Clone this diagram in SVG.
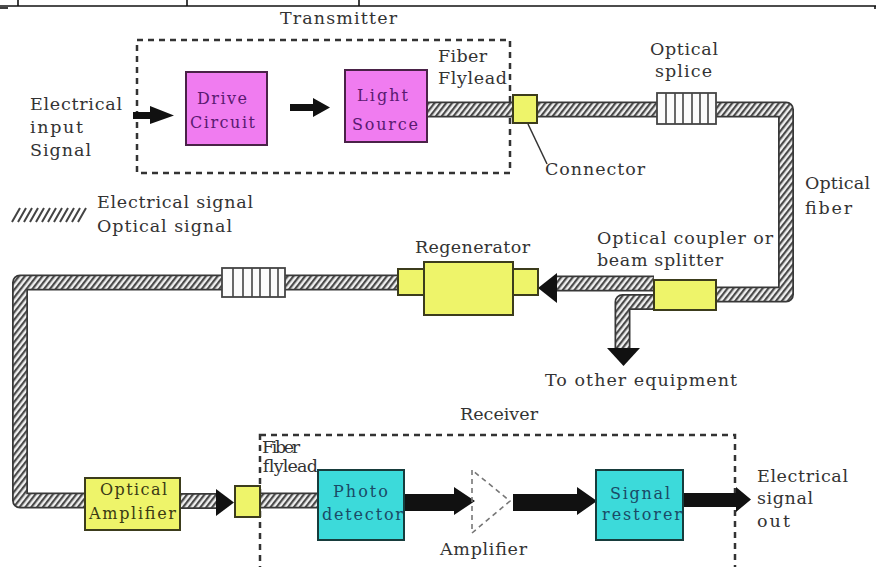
<svg xmlns="http://www.w3.org/2000/svg" width="877" height="567" viewBox="0 0 877 567">
  <defs>
    <!-- diagonal hatch used inside optical fibre runs -->
    <pattern id="hatch" patternUnits="userSpaceOnUse" width="4.6" height="10" patternTransform="rotate(38)">
      <rect width="4.6" height="10" fill="#f0f0f0"/>
      <rect width="2.2" height="10" fill="#4a4a4a"/>
    </pattern>
    <style>
      text { font-family: "DejaVu Serif", "Liberation Serif", serif; fill: #333; font-size: 17.5px; }
      .box-t { font-size: 16px; }
      .mag { fill: #f07cf0; stroke: #4a2248; stroke-width: 2; }
      .mag-t { fill: #5a1a70; }
      .yel { fill: #eef46a; stroke: #3c3c1c; stroke-width: 2; }
      .yel-t { fill: #3a3a14; }
      .cyan { fill: #3cdada; stroke: #173c3c; stroke-width: 2; }
      .cyan-t { fill: #1a4a66; }
      .dash { fill: none; stroke: #333; stroke-width: 2.5; stroke-dasharray: 6 5; }
      .fo { fill: none; stroke: #383838; stroke-width: 16; stroke-linejoin: round; }
      .fi { fill: none; stroke: url(#hatch); stroke-width: 12.5; stroke-linejoin: round; }
      .splice { fill: #fbfbfb; stroke: #444; stroke-width: 1.8; }
      .sl { stroke: #444; stroke-width: 1.6; }
      .blk { fill: #111; }
    </style>
  </defs>

  <rect width="877" height="567" fill="#ffffff"/>

  <!-- ruled border along the top edge -->
  <g id="top-rule" stroke="#111" stroke-width="1.6">
    <line x1="0" y1="6" x2="876" y2="6"/>
    <line x1="18" y1="0" x2="18" y2="6"/>
    <line x1="187" y1="0" x2="187" y2="6"/>
    <line x1="359" y1="0" x2="359" y2="6"/>
    <line x1="0" y1="8" x2="8" y2="8"/>
    <line x1="875" y1="6" x2="875" y2="9"/>
  </g>

  <!-- transmitter and receiver enclosures -->
  <g id="transmitter">
    <rect class="dash" x="137" y="40" width="373" height="133"/>
    <text x="280" y="24" textLength="117">Transmitter</text>
  </g>
  <g id="receiver">
    <rect class="dash" x="260" y="435" width="475" height="160"/>
    <text x="460" y="420" textLength="78">Receiver</text>
  </g>

  <!-- optical fibre runs and electrical arrows -->
  <g id="connectors">
    <!-- flylead and span to the splice -->
    <path class="fo" d="M427 109.5 H513"/>
    <path class="fi" d="M427 109.5 H513"/>
    <path class="fo" d="M537 109.5 H657"/>
    <path class="fi" d="M537 109.5 H657"/>
    <!-- right loop down to coupler -->
    <path class="fo" d="M716 109.5 H786 V294.5 H716"/>
    <path class="fi" d="M716 109.5 H786 V294.5 H716"/>
    <!-- tap branch to other equipment -->
    <path class="fo" d="M654 302 H622.5 V348"/>
    <path class="fi" d="M654 302 H622.5 V348"/>
    <polygon class="blk" points="607,348 640,348 623.5,366"/>
    <!-- coupler to regenerator -->
    <path class="fo" d="M654 283.5 H557"/>
    <path class="fi" d="M654 283.5 H557"/>
    <polygon class="blk" points="538,288 557,273 557,303"/>
    <!-- regenerator to splice -->
    <path class="fo" d="M398 282.5 H285"/>
    <path class="fi" d="M398 282.5 H285"/>
    <!-- left loop down to optical amplifier -->
    <path class="fo" d="M222 282.5 H20 V500.5 H85"/>
    <path class="fi" d="M222 282.5 H20 V500.5 H85"/>
    <!-- amplifier to receiver connector -->
    <path class="fo" d="M180 501 H218"/>
    <path class="fi" d="M180 501 H218"/>
    <polygon class="blk" points="216,489 216,516 234,502.5"/>
    <!-- receiver flylead -->
    <path class="fo" d="M260 500.5 H318"/>
    <path class="fi" d="M260 500.5 H318"/>

    <!-- electrical arrows -->
    <polygon class="blk" points="133,112 150,112 150,106 174,115.5 150,124 150,119 133,119"/>
    <polygon class="blk" points="290,104 313,104 313,98 330,107.5 313,117 313,111 290,111"/>
    <polygon class="blk" points="404,494 454,494 454,487 475,501 454,515 454,511 404,511"/>
    <polygon class="blk" points="513,494 577,494 577,487 597,501 577,515 577,511 513,511"/>
    <polygon class="blk" points="683,493 736,493 736,487 751,499.5 736,512 736,507 683,507"/>

    <!-- connector leader -->
    <line x1="528" y1="124" x2="547" y2="164" stroke="#333" stroke-width="1.5"/>

    <!-- amplifier symbol (dashed) -->
    <path d="M472 470 V533 L510 501 Z" fill="none" stroke="#777" stroke-width="1.6" stroke-dasharray="5 4"/>
  </g>

  <!-- electrical input label -->
  <g id="input-label">
    <text x="30" y="110" textLength="92">Electrical</text>
    <text x="30" y="133" textLength="53">input</text>
    <text x="30" y="156" textLength="61">Signal</text>
  </g>

  <g id="drive-circuit">
    <rect class="mag" x="186" y="72" width="81" height="73"/>
    <text class="box-t mag-t" x="197" y="104" textLength="50">Drive</text>
    <text class="box-t mag-t" x="190" y="128" textLength="65">Circuit</text>
  </g>

  <g id="light-source">
    <rect class="mag" x="345" y="70" width="82" height="72"/>
    <text class="box-t mag-t" x="357" y="101" textLength="51">Light</text>
    <text class="box-t mag-t" x="352" y="130" textLength="66">Source</text>
  </g>

  <g id="fiber-flylead-tx">
    <text x="438" y="62" textLength="49">Fiber</text>
    <text x="438" y="84" textLength="69">Flylead</text>
  </g>

  <g id="connector-tx">
    <rect class="yel" x="513" y="95" width="24" height="28"/>
    <text x="545" y="175" textLength="100">Connector</text>
  </g>

  <g id="splice-top">
    <rect class="splice" x="657" y="93" width="59" height="31"/>
    <g class="sl">
      <line x1="666" y1="93" x2="666" y2="124"/>
      <line x1="675" y1="93" x2="675" y2="124"/>
      <line x1="683" y1="93" x2="683" y2="124"/>
      <line x1="692" y1="93" x2="692" y2="124"/>
      <line x1="700" y1="93" x2="700" y2="124"/>
      <line x1="708" y1="93" x2="708" y2="124"/>
    </g>
    <text x="650" y="55" textLength="68">Optical</text>
    <text x="655" y="77" textLength="57">splice</text>
  </g>

  <g id="fiber-label">
    <text x="805" y="189" textLength="65">Optical</text>
    <text x="805" y="214" textLength="47">fiber</text>
  </g>

  <g id="legend">
    <path d="M12 222 L20 208 M18 222 L26 208 M24 222 L32 208 M30 222 L38 208 M36 222 L44 208 M42 222 L50 208 M48 222 L56 208 M54 222 L62 208 M60 222 L68 208 M66 222 L74 208 M72 222 L80 208 M78 222 L86 208" stroke="#444" stroke-width="2"/>
    <text x="97" y="208" textLength="156">Electrical signal</text>
    <text x="97" y="232" textLength="135">Optical signal</text>
  </g>

  <g id="coupler">
    <rect class="yel" x="654" y="280" width="62" height="30"/>
    <text x="597" y="244" textLength="176">Optical coupler or</text>
    <text x="597" y="266" textLength="126">beam splitter</text>
    <text x="545" y="386" textLength="192">To other equipment</text>
  </g>

  <g id="regenerator">
    <rect class="yel" x="398" y="269" width="26" height="26"/>
    <rect class="yel" x="513" y="269" width="25" height="26"/>
    <rect class="yel" x="424" y="262" width="89" height="53"/>
    <text x="415" y="253" textLength="115">Regenerator</text>
  </g>

  <g id="splice-bottom">
    <rect class="splice" x="222" y="268" width="63" height="29"/>
    <g class="sl">
      <line x1="233" y1="268" x2="233" y2="297"/>
      <line x1="243" y1="268" x2="243" y2="297"/>
      <line x1="252" y1="268" x2="252" y2="297"/>
      <line x1="260" y1="268" x2="260" y2="297"/>
      <line x1="270" y1="268" x2="270" y2="297"/>
      <line x1="278" y1="268" x2="278" y2="297"/>
    </g>
  </g>

  <g id="optical-amplifier">
    <rect class="yel" x="85" y="478" width="95" height="52"/>
    <text class="box-t yel-t" x="100" y="495" textLength="67">Optical</text>
    <text class="box-t yel-t" x="89" y="519" textLength="87">Amplifier</text>
  </g>

  <g id="connector-rx">
    <rect class="yel" x="235" y="486" width="25" height="31"/>
  </g>

  <g id="fiber-flylead-rx">
    <text x="262" y="453" font-size="13" fill="#666" textLength="38">Fiber</text>
    <text x="262" y="472" font-size="13" fill="#666" textLength="55">flylead</text>
  </g>

  <g id="photo-detector">
    <rect class="cyan" x="318" y="470" width="86" height="70"/>
    <text class="box-t cyan-t" x="333" y="497" textLength="55">Photo</text>
    <text class="box-t cyan-t" x="322" y="520" textLength="81">detector</text>
  </g>

  <g id="amplifier">
    <text x="440" y="555" textLength="87">Amplifier</text>
  </g>

  <g id="signal-restorer">
    <rect class="cyan" x="596" y="470" width="87" height="70"/>
    <text class="box-t cyan-t" x="610" y="499" textLength="60">Signal</text>
    <text class="box-t cyan-t" x="602" y="520" textLength="80">restorer</text>
  </g>

  <g id="output-label">
    <text x="757" y="482" textLength="91">Electrical</text>
    <text x="757" y="504" textLength="56">signal</text>
    <text x="757" y="527" textLength="33">out</text>
  </g>
</svg>
